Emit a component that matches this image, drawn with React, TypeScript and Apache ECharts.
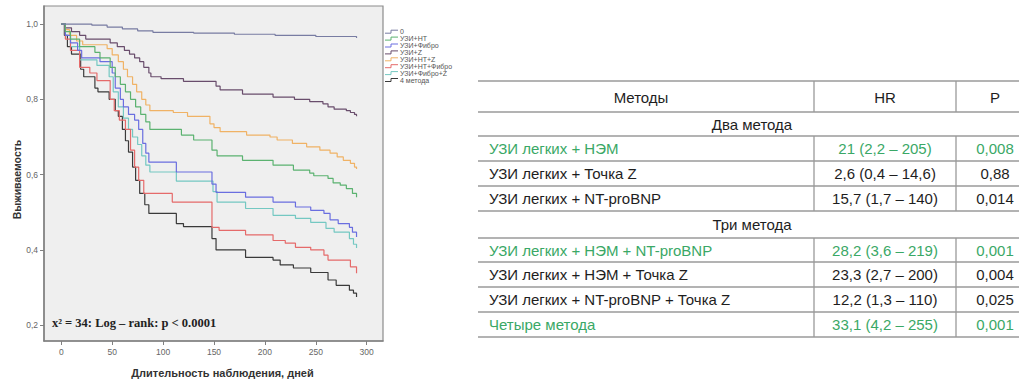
import React, { useEffect, useRef } from "react";
import * as echarts from "echarts";

// ---------- Kaplan–Meier curves: [day, survival] ----------
const seriesNames = ["0", "УЗИ+НТ", "УЗИ+Фибро", "УЗИ+Z", "УЗИ+НТ+Z", "УЗИ+НТ+Фибро", "УЗИ+Фибро+Z", "4 метода"];
const seriesColors = ["#787ca2", "#5bb270", "#6a6ee0", "#694d6c", "#f0b265", "#e56a6a", "#74c8c2", "#3a3a3a"];

const curveNone: [number, number][] = [[0, 1], [30, 0.997], [45, 0.992], [60, 0.987], [75, 0.982], [90, 0.978], [130, 0.976], [170, 0.973], [210, 0.97], [250, 0.967], [290, 0.963]];
const curveNT: [number, number][] = [[0, 1], [4, 0.98], [9, 0.96], [18, 0.94], [33, 0.925], [38, 0.91], [48, 0.885], [53, 0.86], [58, 0.84], [63, 0.82], [68, 0.8], [73, 0.78], [78, 0.76], [83, 0.74], [87, 0.72], [118, 0.705], [130, 0.692], [148, 0.665], [153, 0.65], [178, 0.638], [208, 0.625], [228, 0.612], [244, 0.604], [248, 0.597], [262, 0.59], [267, 0.578], [274, 0.572], [280, 0.563], [286, 0.55], [290, 0.54]];
const curveFibro: [number, number][] = [[0, 1], [4, 0.97], [9, 0.95], [16, 0.93], [20, 0.91], [38, 0.9], [50, 0.87], [53, 0.83], [58, 0.8], [61, 0.78], [66, 0.76], [72, 0.745], [76, 0.72], [80, 0.683], [83, 0.657], [86, 0.633], [113, 0.607], [148, 0.575], [152, 0.553], [181, 0.54], [208, 0.527], [230, 0.514], [245, 0.505], [258, 0.497], [264, 0.48], [272, 0.47], [283, 0.46], [286, 0.447], [290, 0.434]];
const curveZ: [number, number][] = [[0, 1], [4, 0.99], [10, 0.98], [18, 0.97], [24, 0.96], [48, 0.95], [55, 0.94], [62, 0.93], [67, 0.92], [72, 0.91], [77, 0.9], [81, 0.885], [86, 0.87], [88, 0.86], [98, 0.855], [120, 0.848], [152, 0.835], [156, 0.825], [178, 0.814], [208, 0.806], [229, 0.8], [244, 0.794], [257, 0.788], [262, 0.78], [268, 0.774], [280, 0.77], [284, 0.765], [288, 0.76], [290, 0.755]];
const curveNTZ: [number, number][] = [[0, 1], [4, 0.985], [8, 0.97], [15, 0.955], [21, 0.945], [45, 0.935], [50, 0.918], [56, 0.9], [61, 0.88], [65, 0.86], [70, 0.84], [74, 0.82], [79, 0.8], [83, 0.785], [87, 0.77], [110, 0.765], [124, 0.755], [146, 0.735], [150, 0.725], [156, 0.714], [182, 0.705], [205, 0.7], [212, 0.692], [227, 0.683], [241, 0.674], [254, 0.665], [264, 0.657], [271, 0.647], [277, 0.638], [284, 0.63], [288, 0.62], [290, 0.615]];
const curveNTFibro: [number, number][] = [[0, 1], [4, 0.96], [9, 0.93], [18, 0.885], [28, 0.87], [35, 0.85], [48, 0.8], [52, 0.77], [57, 0.745], [63, 0.72], [68, 0.665], [72, 0.62], [76, 0.585], [81, 0.55], [109, 0.527], [148, 0.46], [155, 0.452], [181, 0.44], [208, 0.425], [220, 0.418], [230, 0.407], [245, 0.4], [258, 0.386], [262, 0.373], [284, 0.355], [290, 0.338]];
const curveFibroZ: [number, number][] = [[0, 1], [4, 0.97], [9, 0.94], [18, 0.905], [35, 0.89], [47, 0.86], [51, 0.82], [56, 0.78], [61, 0.75], [66, 0.72], [70, 0.7], [75, 0.68], [79, 0.65], [83, 0.625], [87, 0.607], [113, 0.583], [149, 0.555], [153, 0.527], [181, 0.51], [208, 0.492], [230, 0.484], [245, 0.473], [260, 0.457], [268, 0.447], [283, 0.43], [287, 0.415], [290, 0.405]];
const curveAll: [number, number][] = [[0, 1], [3, 0.97], [6, 0.94], [10, 0.92], [19, 0.88], [22, 0.86], [33, 0.83], [36, 0.82], [47, 0.8], [53, 0.77], [56, 0.755], [60, 0.72], [63, 0.69], [66, 0.66], [70, 0.62], [73, 0.585], [77, 0.55], [82, 0.52], [86, 0.497], [113, 0.47], [120, 0.462], [148, 0.43], [152, 0.4], [181, 0.38], [208, 0.373], [215, 0.36], [228, 0.352], [245, 0.34], [262, 0.32], [270, 0.306], [283, 0.293], [287, 0.285], [290, 0.275]];
const curves = [curveNone, curveNT, curveFibro, curveZ, curveNTZ, curveNTFibro, curveFibroZ, curveAll];

const xTicks = [0, 50, 100, 150, 200, 250, 300];
const yTicks = [0.2, 0.4, 0.6, 0.8, 1.0];
const statText = "x² = 34: Log – rank: p < 0.0001";

// ---------- Table ----------
const tableHeaders = ["Методы", "HR", "P"];
const groupTitles = ["Два метода", "Три метода"];
const methods = [
  "УЗИ легких + НЭМ",
  "УЗИ легких + Точка Z",
  "УЗИ легких + NT-proBNP",
  "УЗИ легких + НЭМ + NT-proBNP",
  "УЗИ легких + НЭМ + Точка Z",
  "УЗИ легких + NT-proBNP + Точка Z",
  "Четыре метода",
];
const hrValues = ["21 (2,2 – 205)", "2,6 (0,4 – 14,6)", "15,7 (1,7 – 140)", "28,2 (3,6 – 219)", "23,3 (2,7 – 200)", "12,2 (1,3 – 110)", "33,1 (4,2 – 255)"];
const pValues = ["0,008", "0,88", "0,014", "0,001", "0,004", "0,025", "0,001"];
const highlighted = [true, false, false, true, false, false, true];
const groupSizes = [3, 4];

// row boundaries (layout only)
const rowBounds = [81, 112, 136, 161, 186, 211, 238, 262, 287, 312, 337];

function buildTable(): any[] {
  const els: any[] = [];
  const L = 478, TX = 489, C1 = 814, C2 = 956, R = 1019;
  const green = "#3aa866";
  const dark = "#1e1e1e";
  const lineColor = "#9a9a9a";
  const font = "Liberation Sans";
  const fs = 15;
  const hline = (y: number) => els.push({ type: "line", shape: { x1: L, y1: y, x2: R, y2: y }, style: { stroke: lineColor, lineWidth: 1.3 } });
  const vlines = (y1: number, y2: number) => {
    els.push({ type: "line", shape: { x1: C1, y1, x2: C1, y2 }, style: { stroke: lineColor, lineWidth: 1.3 } });
    els.push({ type: "line", shape: { x1: C2, y1, x2: C2, y2 }, style: { stroke: lineColor, lineWidth: 1.3 } });
  };
  const txt = (x: number, y: number, s: string, align: string, color: string) =>
    els.push({ type: "text", x, y, style: { text: s, fill: color, fontSize: fs, fontFamily: font, align, verticalAlign: "middle" } });
  const mid = (k: number) => (rowBounds[k] + rowBounds[k + 1]) / 2;

  let k = 0;
  hline(rowBounds[0]);
  txt(641, mid(k) + 1, tableHeaders[0], "center", dark);
  txt((C1 + C2) / 2, mid(k) + 1, tableHeaders[1], "center", dark);
  txt(995, mid(k) + 1, tableHeaders[2], "center", dark);
  vlines(rowBounds[0], rowBounds[1]);
  hline(rowBounds[1]);
  k = 1;
  let idx = 0;
  groupSizes.forEach((n, g) => {
    txt(752, mid(k), groupTitles[g], "center", dark);
    k++;
    hline(rowBounds[k]);
    const top = rowBounds[k];
    for (let i = 0; i < n; i++) {
      const c = highlighted[idx] ? green : dark;
      txt(TX, mid(k), methods[idx], "left", c);
      txt((C1 + C2) / 2, mid(k), hrValues[idx], "center", c);
      txt(995, mid(k), pValues[idx], "center", c);
      k++;
      hline(rowBounds[k]);
      idx++;
    }
    vlines(top, rowBounds[k]);
  });
  return els;
}

function buildLegend(): any[] {
  const els: any[] = [];
  seriesNames.forEach((n, i) => {
    const y = 31.7 + i * 6.9;
    els.push({
      type: "polyline",
      shape: { points: [[385, y + 1.5], [391, y + 1.5], [391, y - 1.5], [398, y - 1.5]] },
      style: { stroke: seriesColors[i], lineWidth: 1, fill: null },
    });
    els.push({ type: "text", x: 400, y, style: { text: n, fill: "#555", fontSize: 7, fontFamily: "Liberation Sans", verticalAlign: "middle" } });
  });
  return els;
}

export default function App() {
  const ref = useRef<HTMLDivElement>(null);
  useEffect(() => {
    const chart = echarts.init(ref.current!, null, { renderer: "svg" });
    const option: any = {
      animation: false,
      backgroundColor: "#ffffff",
      grid: {
        left: 44, right: 1019 - 383, top: 6, bottom: 383 - 341,
        show: true, backgroundColor: "#efefef", borderColor: "#8c8c8c", borderWidth: 1.2,
      },
      xAxis: {
        type: "value", min: -17, max: 316,
        axisLine: { show: true, onZero: false, lineStyle: { color: "#808080", width: 1.5 } },
        axisTick: { show: true, length: 4, customValues: xTicks, lineStyle: { color: "#808080" } },
        axisLabel: { customValues: xTicks, fontSize: 8.5, color: "#666", margin: 6, fontFamily: "Liberation Sans" },
        splitLine: { show: false },
        name: "Длительность наблюдения, дней", nameLocation: "middle", nameGap: 26,
        nameTextStyle: { fontSize: 11, fontWeight: "bold", color: "#333", fontFamily: "Liberation Sans", padding: [0, 0, 0, 18] },
      },
      yAxis: {
        type: "value", min: 0.158, max: 1.048,
        axisLine: { show: true, onZero: false, lineStyle: { color: "#808080", width: 1.5 } },
        axisTick: { show: true, length: 4, customValues: yTicks, lineStyle: { color: "#808080" } },
        axisLabel: {
          customValues: yTicks, fontSize: 8.5, color: "#666", margin: 6, fontFamily: "Liberation Sans",
          formatter: (v: number) => v.toFixed(1).replace(".", ","),
        },
        splitLine: { show: false },
        name: "Выживаемость", nameLocation: "middle", nameGap: 20,
        nameTextStyle: { fontSize: 10.5, fontWeight: "bold", color: "#333", fontFamily: "Liberation Sans", padding: [0, 12, 0, 0] },
      },
      series: curves.map((c, i) => ({
        name: seriesNames[i], type: "line", step: "end", data: c,
        showSymbol: false, symbol: "none",
        lineStyle: { color: seriesColors[i], width: 1.2 },
        z: 10 - i,
      })),
      graphic: [
        ...buildLegend(),
        {
          type: "text", x: 52, y: 323,
          style: { text: statText, fill: "#222", fontSize: 12.5, fontWeight: "bold", fontFamily: "Liberation Serif", verticalAlign: "middle" },
        },
        ...buildTable(),
      ],
    };
    chart.setOption(option);
    return () => chart.dispose();
  }, []);
  return <div ref={ref} style={{ position: "absolute", left: 0, top: 0, width: 1019, height: 383 }} />;
}
